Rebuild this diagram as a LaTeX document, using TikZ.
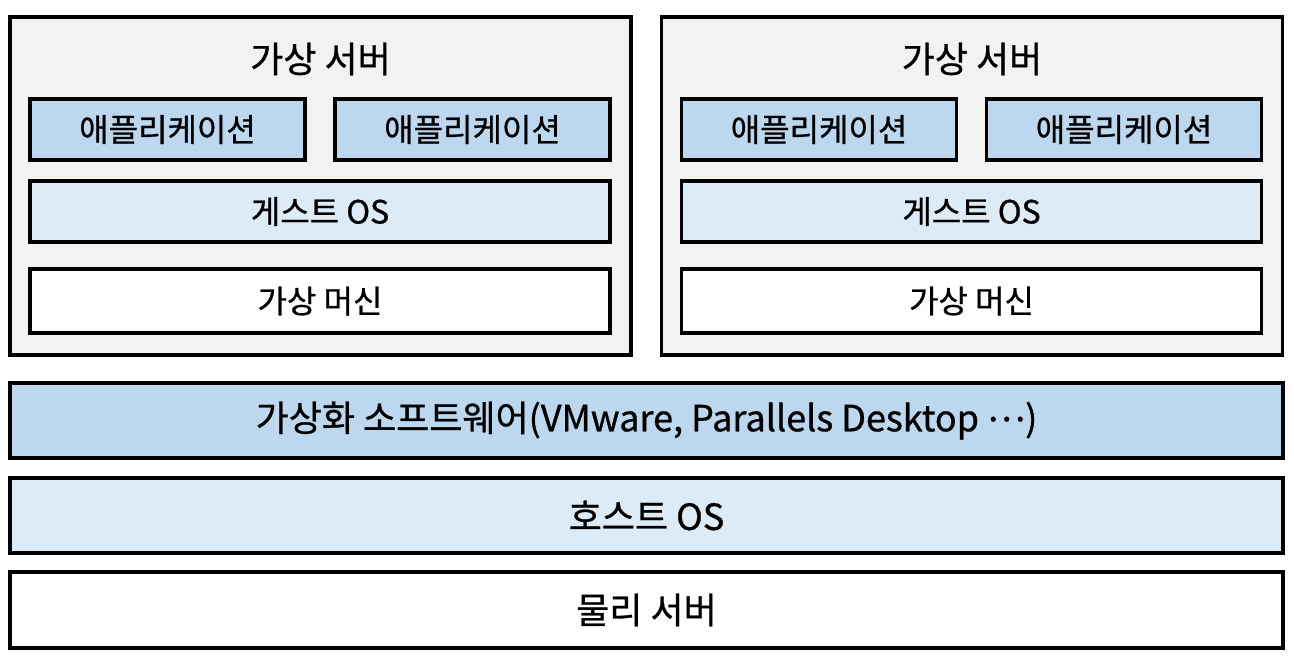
\documentclass[tikz,border=0pt]{standalone}
\usepackage{fontspec}
\setmainfont{Noto Sans CJK KR}[FakeBold=0.8]
\usetikzlibrary{positioning}

\definecolor{servergray}{HTML}{F2F2F2}
\definecolor{appblue}{HTML}{BDD7EE}
\definecolor{oslight}{HTML}{DDEBF7}

\tikzset{
  layer/.style={draw, line width=1.75pt, rectangle, inner sep=0pt,
    font=\fontsize{18}{21}\selectfont},
  inner/.style={layer, font=\fontsize{16}{19}\selectfont},
  server/.style={layer, fill=servergray, minimum width=310.5pt, minimum height=169pt},
  app/.style={inner, fill=appblue, minimum width=137.5pt, minimum height=30.5pt},
  guest/.style={inner, fill=oslight, minimum width=290pt, minimum height=30.5pt},
  vm/.style={inner, fill=white, minimum width=290pt, minimum height=32pt},
  wide/.style={layer, minimum width=636.5pt, minimum height=37.5pt}
}

\begin{document}
\begin{tikzpicture}[x=0.5pt, y=-0.5pt]
  \useasboundingbox (0,0) rectangle (1294,660);

  % two virtual servers
  \node[server] (srvL) at (320.5,186) {};
  \node[server] (srvR) at (972,186) {};
  \node[font=\fontsize{18}{21}\selectfont] (titleL) at (320.5,59) {가상 서버};
  \node[font=\fontsize{18}{21}\selectfont] (titleR) at (972,59) {가상 서버};

  \node[app] (appL1) at (167.5,129.5) {애플리케이션};
  \node[app] (appL2) at (472.5,129.5) {애플리케이션};
  \node[guest] (guestL) at (320,211.5) {게스트 OS};
  \node[vm] (vmL) at (320,301) {가상 머신};

  \node[app] (appR1) at (819,129.5) {애플리케이션};
  \node[app] (appR2) at (1124,129.5) {애플리케이션};
  \node[guest] (guestR) at (971.5,211.5) {게스트 OS};
  \node[vm] (vmR) at (971.5,301) {가상 머신};

  % lower layers
  \node[wide, fill=appblue] (virt) at (646.5,420.5) {가상화 소프트웨어(VMware, Parallels Desktop \raisebox{0.28em}{…})};
  \node[wide, fill=oslight] (host) at (646.5,515.5) {호스트 OS};
  \node[wide, fill=white, minimum height=38pt] (phys) at (646.5,610) {물리 서버};
\end{tikzpicture}
\end{document}
